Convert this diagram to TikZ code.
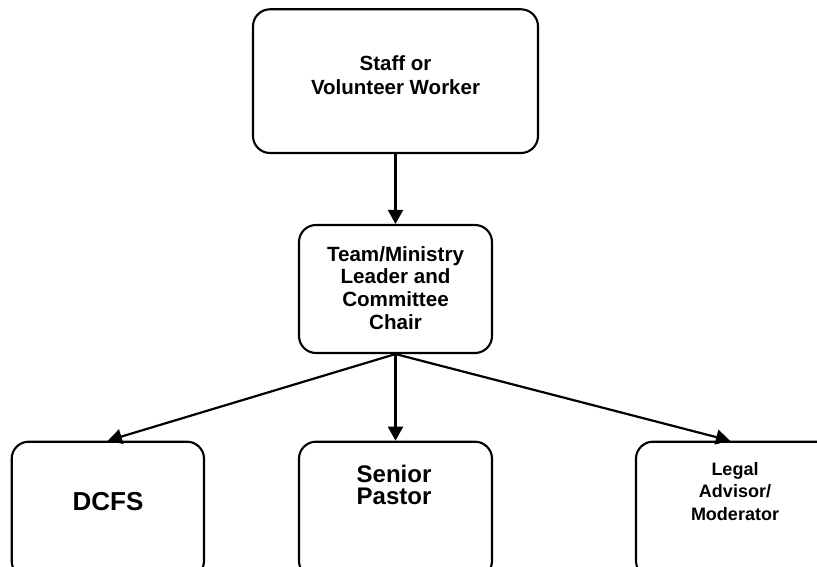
\documentclass[tikz,border=0pt]{standalone}
\usepackage{fontspec}
\setmainfont{Liberation Sans}
\usetikzlibrary{arrows.meta}
\begin{document}
\begin{tikzpicture}[x=1pt,y=-1pt,
  box/.style={draw=black, line width=2.1pt, rounded corners=17pt, inner sep=0pt},
  lbl/.style={align=center, inner sep=0pt, anchor=north},
  conn/.style={draw=black, line width=2.2pt, -{Triangle[length=14pt,width=15pt]}}]
\useasboundingbox (0,0) rectangle (817,567);
\clip (-1,-1) rectangle (818,568);
% boxes
\node[box, minimum width=285pt, minimum height=143.7pt] (top) at (395.5,81.15) {};
\node[box, minimum width=193pt, minimum height=128pt] (mid) at (395.5,289) {};
\node[box, minimum width=192.3pt, minimum height=136.3pt] (dcfs) at (107.85,509.85) {};
\node[box, minimum width=193pt, minimum height=136.3pt] (pastor) at (395.5,509.85) {};
\node[box, minimum width=198pt, minimum height=136.3pt] (legal) at (735,509.85) {};
% labels
\node[lbl, font=\bfseries\fontsize{20.5}{24.3}\selectfont] (ttop) at (395.5,55) {Staff or\\Volunteer Worker};
\node[lbl, font=\bfseries\fontsize{20.6}{22.8}\selectfont] (tmid) at (395.5,246) {Team/Ministry\\Leader and\\Committee\\Chair};
\node[lbl, font=\bfseries\fontsize{24}{21.7}\selectfont] (tpastor) at (394,465) {Senior\\Pastor};
\node[inner sep=0pt, anchor=base, font=\bfseries\fontsize{26}{28}\selectfont] (tdcfs) at (108,510) {DCFS};
\node[lbl, font=\bfseries\fontsize{18}{22.5}\selectfont] (tlegal) at (735,462) {Legal\\Advisor/\\Moderator};
% connectors
\draw[conn] (top.south) -- (mid.north);
\draw[conn] (mid.south) -- (pastor.north);
\draw[conn] (mid.south) -- (dcfs.north);
\draw[conn] (mid.south) -- ([xshift=-5pt]legal.north);
\end{tikzpicture}
\end{document}
